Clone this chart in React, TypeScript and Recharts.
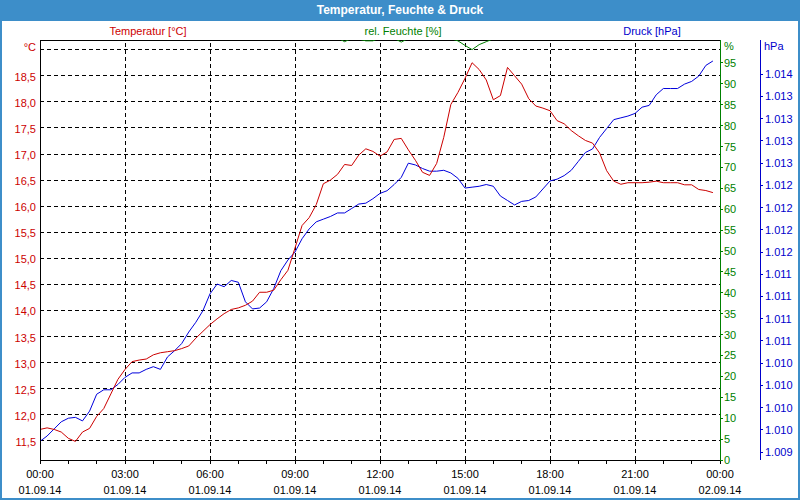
import React from 'react';
import { LineChart, Line, XAxis, YAxis, ReferenceLine } from 'recharts';

const TIMES = [
  0, 0.25, 0.5, 0.75, 1, 1.25, 1.5, 1.75, 2, 2.25, 2.5, 2.75, 3, 3.25, 3.5, 3.75,
  4, 4.25, 4.5, 4.75, 5, 5.25, 5.5, 5.75, 6, 6.25, 6.5, 6.75, 7, 7.25, 7.5, 7.75,
  8, 8.25, 8.5, 8.75, 9, 9.25, 9.5, 9.75, 10, 10.25, 10.5, 10.75, 11, 11.25, 11.5, 11.75,
  12, 12.25, 12.5, 12.75, 13, 13.25, 13.5, 13.75, 14, 14.25, 14.5, 14.75, 15, 15.25, 15.5, 15.75,
  16, 16.25, 16.5, 16.75, 17, 17.25, 17.5, 17.75, 18, 18.25, 18.5, 18.75, 19, 19.25, 19.5, 19.75,
  20, 20.25, 20.5, 20.75, 21, 21.25, 21.5, 21.75, 22, 22.25, 22.5, 22.75, 23, 23.25, 23.5, 23.75,
];

const TEMPERATURE = [
  11.72, 11.75, 11.72, 11.67, 11.55, 11.49, 11.67, 11.74, 11.97, 12.12,
  12.40, 12.68, 12.87, 13.02, 13.05, 13.07, 13.15, 13.19, 13.21, 13.23,
  13.27, 13.32, 13.47, 13.60, 13.73, 13.84, 13.94, 14.02, 14.05, 14.10,
  14.18, 14.35, 14.35, 14.39, 14.59, 14.77, 15.20, 15.63, 15.78, 16.03,
  16.43, 16.50, 16.61, 16.80, 16.78, 16.98, 17.10, 17.05, 16.96, 17.04,
  17.28, 17.30, 17.08, 16.88, 16.65, 16.59, 16.82, 17.32, 17.95, 18.18,
  18.45, 18.75, 18.62, 18.42, 18.04, 18.12, 18.66, 18.50, 18.34, 18.06,
  17.92, 17.88, 17.83, 17.64, 17.58, 17.45, 17.35, 17.26, 17.21, 17.02,
  16.68, 16.48, 16.42, 16.45, 16.45, 16.45, 16.46, 16.48, 16.45, 16.45,
  16.45, 16.41, 16.41, 16.32, 16.30, 16.26,
];

const HUMIDITY = [
  101.0, 101.0, 101.0, 101.0, 101.0, 101.0, 101.0, 101.0, 101.0, 101.0,
  101.0, 101.0, 101.0, 101.0, 101.0, 101.0, 101.0, 101.0, 101.0, 101.0,
  101.0, 101.0, 101.0, 101.0, 101.0, 101.0, 101.0, 101.0, 101.0, 101.0,
  101.0, 101.0, 101.0, 101.0, 101.0, 101.0, 101.0, 101.0, 101.0, 101.0,
  101.0, 101.0, 101.0, 100.1, 100.9, 100.7, 100.3, 100.3, 101.0, 101.0,
  100.9, 100.0, 100.9, 101.0, 101.0, 101.0, 101.0, 101.0, 100.8, 100.3,
  99.2, 98.2, 99.4, 100.1, 100.8, 101.0, 101.0, 101.0, 101.0, 101.0,
  101.0, 101.0, 101.0, 101.0, 101.0, 101.0, 101.0, 101.0, 101.0, 101.0,
  101.0, 101.0, 101.0, 101.0, 101.0, 101.0, 101.0, 101.0, 101.0, 101.0,
  101.0, 101.0, 101.0, 101.0, 101.0, 101.0,
];

const PRESSURE = [
  1009.37, 1009.43, 1009.51, 1009.59, 1009.63, 1009.64, 1009.60, 1009.71, 1009.90, 1009.95,
  1009.95, 1010.01, 1010.09, 1010.14, 1010.14, 1010.18, 1010.21, 1010.18, 1010.32, 1010.39,
  1010.47, 1010.60, 1010.71, 1010.84, 1011.03, 1011.14, 1011.11, 1011.18, 1011.16, 1010.94,
  1010.86, 1010.87, 1010.94, 1011.09, 1011.29, 1011.41, 1011.50, 1011.65, 1011.76, 1011.84,
  1011.87, 1011.90, 1011.94, 1011.94, 1011.99, 1012.04, 1012.05, 1012.10, 1012.16, 1012.19,
  1012.26, 1012.34, 1012.50, 1012.48, 1012.44, 1012.41, 1012.41, 1012.42, 1012.39, 1012.33,
  1012.22, 1012.23, 1012.24, 1012.26, 1012.24, 1012.13, 1012.08, 1012.03, 1012.07, 1012.08,
  1012.12, 1012.21, 1012.30, 1012.32, 1012.36, 1012.42, 1012.52, 1012.62, 1012.66, 1012.79,
  1012.89, 1012.99, 1013.01, 1013.03, 1013.06, 1013.13, 1013.15, 1013.27, 1013.34, 1013.34,
  1013.34, 1013.39, 1013.42, 1013.48, 1013.60, 1013.65,
];

const TEMP_DOMAIN = [11.134, 19.186];
const TEMP_TICKS = [11.5, 12, 12.5, 13, 13.5, 14, 14.5, 15, 15.5, 16, 16.5, 17, 17.5, 18, 18.5, 19];
const TEMP_TICK_LABELS = ['11,5', '12,0', '12,5', '13,0', '13,5', '14,0', '14,5', '15,0', '15,5', '16,0', '16,5', '17,0', '17,5', '18,0', '18,5', '°C'];

const HUM_DOMAIN = [0, 100.5];
const HUM_TICKS = [0, 5, 10, 15, 20, 25, 30, 35, 40, 45, 50, 55, 60, 65, 70, 75, 80, 85, 90, 95, 99];
const HUM_TICK_LABELS = ['0', '5', '10', '15', '20', '25', '30', '35', '40', '45', '50', '55', '60', '65', '70', '75', '80', '85', '90', '95', '%'];

const PRESS_DOMAIN = [1009.16, 1013.886];
const PRESS_TICKS = [1009.25, 1009.5, 1009.75, 1010, 1010.25, 1010.5, 1010.75, 1011, 1011.25, 1011.5, 1011.75, 1012, 1012.25, 1012.5, 1012.75, 1013, 1013.25, 1013.5, 1013.82];
const PRESS_TICK_LABELS = ['1.009', '1.010', '1.010', '1.010', '1.010', '1.011', '1.011', '1.011', '1.011', '1.012', '1.012', '1.012', '1.012', '1.013', '1.013', '1.013', '1.013', '1.014', 'hPa'];

const HOUR_TICKS = [0, 1, 2, 3, 4, 5, 6, 7, 8, 9, 10, 11, 12, 13, 14, 15, 16, 17, 18, 19, 20, 21, 22, 23, 24];
const MAJOR_HOURS = [0, 3, 6, 9, 12, 15, 18, 21, 24];
const GRID_HOURS = [3, 6, 9, 12, 15, 18, 21];
const TIME_LABELS = ['00:00', '03:00', '06:00', '09:00', '12:00', '15:00', '18:00', '21:00', '00:00'];
const DATE_LABELS = ['01.09.14', '01.09.14', '01.09.14', '01.09.14', '01.09.14', '01.09.14', '01.09.14', '01.09.14', '02.09.14'];

const FONT = '"Liberation Sans", Arial, Helvetica, sans-serif';
const FRAME_BLUE = '#3d8ec9';
const RED = '#cc0000';
const GREEN = '#008000';
const BLUE = '#0000dd';
const LABEL_BLUE = '#0000cc';

const data = TIMES.map((t, i) => ({ t, temp: TEMPERATURE[i], hum: HUMIDITY[i], press: PRESSURE[i] }));

const TempTick = (props: any) => {
  const { x, y, payload } = props;
  const i = TEMP_TICKS.indexOf(payload.value);
  const label = TEMP_TICK_LABELS[i];
  const shift = label === '°C' ? -3 : 1;
  return (
    <text x={x} y={y + shift} dy="0.36em" textAnchor="end" fill={RED} fontSize={11} fontFamily={FONT}>
      {label}
    </text>
  );
};

const HumTick = (props: any) => {
  const { x, y, payload } = props;
  const i = HUM_TICKS.indexOf(payload.value);
  const label = HUM_TICK_LABELS[i];
  const isUnit = label === '%';
  return (
    <g>
      {!isUnit && <line x1={x - 5} x2={x - 2} y1={y} y2={y} stroke={GREEN} shapeRendering="crispEdges" />}
      <text x={x - 1} y={y} dy="0.36em" textAnchor="start" fill={GREEN} fontSize={11} fontFamily={FONT}>
        {label}
      </text>
    </g>
  );
};

const PressTick = (props: any) => {
  const { x, y, payload } = props;
  const i = PRESS_TICKS.indexOf(payload.value);
  const label = PRESS_TICK_LABELS[i];
  const isUnit = label === 'hPa';
  return (
    <g>
      {!isUnit && <line x1={x - 5} x2={x - 2} y1={y} y2={y} stroke={LABEL_BLUE} shapeRendering="crispEdges" />}
      <text x={isUnit ? x - 1 : x} y={y} dy="0.36em" textAnchor="start" fill={LABEL_BLUE} fontSize={11} fontFamily={FONT}>
        {label}
      </text>
    </g>
  );
};

const TimeTick = (props: any) => {
  const { x, y, payload } = props;
  const idx = MAJOR_HOURS.indexOf(payload.value);
  return (
    <g>
      <line x1={x} x2={x} y1={y} y2={y + 4} stroke="#000" shapeRendering="crispEdges" />
      {idx >= 0 && (
        <>
          <text x={x} y={y + 14} dy="0.36em" textAnchor="middle" fill="#000" fontSize={11} fontFamily={FONT}>
            {TIME_LABELS[idx]}
          </text>
          <text x={x} y={y + 30} dy="0.36em" textAnchor="middle" fill="#000" fontSize={11} fontFamily={FONT}>
            {DATE_LABELS[idx]}
          </text>
        </>
      )}
    </g>
  );
};

const headerLabel = (text: string, cx: number, color: string) => (
  <div
    style={{
      position: 'absolute',
      left: cx - 100,
      top: 24,
      width: 200,
      height: 14,
      lineHeight: '14px',
      textAlign: 'center',
      fontSize: 11,
      fontFamily: FONT,
      color,
      whiteSpace: 'nowrap',
    }}
  >
    {text}
  </div>
);

export default function App() {
  return (
    <div style={{ position: 'absolute', left: 0, top: 0, width: 800, height: 500, background: '#fff', overflow: 'hidden' }}>
      <div
        style={{
          position: 'absolute',
          left: 0,
          top: 0,
          width: 800,
          height: 21,
          background: FRAME_BLUE,
          color: '#fff',
          fontWeight: 'bold',
          fontSize: 12,
          fontFamily: FONT,
          lineHeight: '21px',
          textAlign: 'center',
        }}
      >
        Temperatur, Feuchte &amp; Druck
      </div>
      <div
        style={{
          position: 'absolute',
          left: 0,
          top: 0,
          width: 800,
          height: 500,
          boxSizing: 'border-box',
          border: `2px solid ${FRAME_BLUE}`,
          pointerEvents: 'none',
        }}
      />
      {headerLabel('Temperatur [°C]', 148, RED)}
      {headerLabel('rel. Feuchte [%]', 403, GREEN)}
      {headerLabel('Druck [hPa]', 652, LABEL_BLUE)}
      <div style={{ position: 'absolute', left: 0, top: 0 }}>
        <LineChart width={800} height={500} data={data} margin={{ top: 40, right: 0, bottom: 0, left: 0 }}>
          <XAxis
            dataKey="t"
            type="number"
            domain={[0, 24]}
            ticks={HOUR_TICKS}
            interval={0}
            allowDataOverflow
            height={40}
            axisLine={{ stroke: '#000', shapeRendering: 'crispEdges' }}
            tickLine={false}
            tickSize={0}
            tickMargin={0}
            tick={<TimeTick />}
          />
          <YAxis
            yAxisId="temp"
            orientation="left"
            type="number"
            width={40}
            domain={TEMP_DOMAIN}
            ticks={TEMP_TICKS}
            interval={0}
            allowDataOverflow
            axisLine={{ stroke: '#000', shapeRendering: 'crispEdges' }}
            tickLine={false}
            tickSize={0}
            tickMargin={4}
            tick={<TempTick />}
          />
          <YAxis
            yAxisId="hum"
            orientation="right"
            type="number"
            width={40}
            domain={HUM_DOMAIN}
            ticks={HUM_TICKS}
            interval={0}
            allowDataOverflow
            axisLine={{ stroke: GREEN, shapeRendering: 'crispEdges' }}
            tickLine={false}
            tickSize={3}
            tickMargin={2}
            tick={<HumTick />}
          />
          <YAxis
            yAxisId="press"
            orientation="right"
            type="number"
            width={40}
            domain={PRESS_DOMAIN}
            ticks={PRESS_TICKS}
            interval={0}
            allowDataOverflow
            axisLine={{ stroke: LABEL_BLUE, shapeRendering: 'crispEdges' }}
            tickLine={false}
            tickSize={3}
            tickMargin={2}
            tick={<PressTick />}
          />
          {TEMP_TICKS.map((v) => (
            <ReferenceLine key={'h' + v} yAxisId="temp" y={v} stroke="#000" strokeDasharray="4 3" shapeRendering="crispEdges" />
          ))}
          {GRID_HOURS.map((h) => (
            <ReferenceLine key={'v' + h} yAxisId="temp" x={h} stroke="#000" strokeDasharray="4 3" shapeRendering="crispEdges" />
          ))}
          <ReferenceLine yAxisId="temp" y={TEMP_DOMAIN[1]} stroke="#000" shapeRendering="crispEdges" />
          <Line yAxisId="hum" dataKey="hum" type="linear" stroke={GREEN} strokeWidth={1} dot={false} isAnimationActive={false} />
          <Line yAxisId="press" dataKey="press" type="linear" stroke={BLUE} strokeWidth={1} dot={false} isAnimationActive={false} />
          <Line yAxisId="temp" dataKey="temp" type="linear" stroke={RED} strokeWidth={1} dot={false} isAnimationActive={false} />
        </LineChart>
      </div>
    </div>
  );
}
